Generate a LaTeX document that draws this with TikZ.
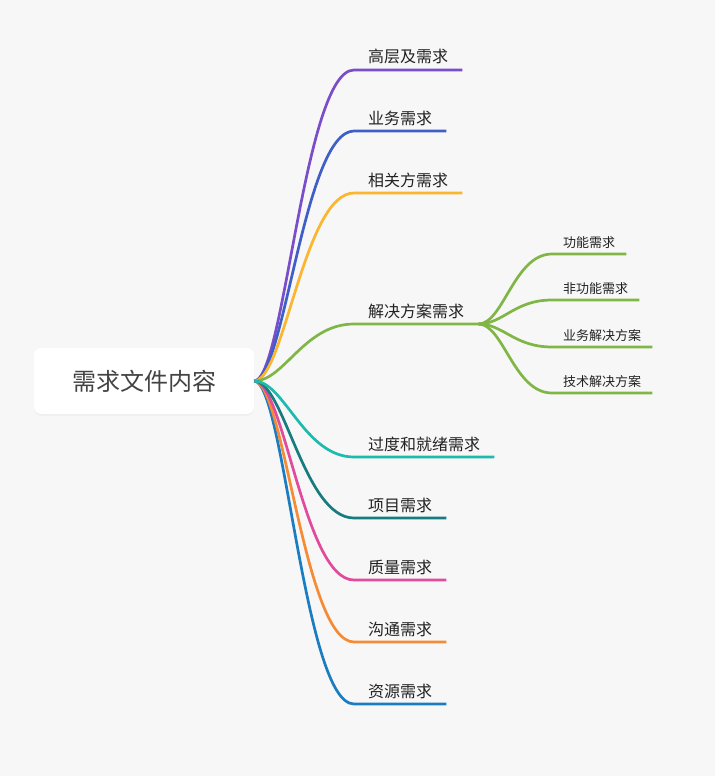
\documentclass[tikz,border=0pt]{standalone}
\usepackage{fontspec}
\usepackage{tikz}
\usetikzlibrary{shadows}
\newfontfamily\cjk{Noto Sans CJK SC}
\definecolor{bggray}{HTML}{F7F7F7}
\definecolor{txtgray}{HTML}{222222}
\definecolor{purp}{HTML}{7A4DC9}
\definecolor{blu}{HTML}{3F5FC6}
\definecolor{yel}{HTML}{FBB52F}
\definecolor{grn}{HTML}{80B646}
\definecolor{tea}{HTML}{1DBBAE}
\definecolor{dtea}{HTML}{167C7E}
\definecolor{pnk}{HTML}{E04B9C}
\definecolor{orng}{HTML}{F68B35}
\definecolor{sblu}{HTML}{1A7DC2}

\begin{document}
\begin{tikzpicture}[x=1pt,y=-1pt,
  rootbox/.style={draw=none,fill=white,rounded corners=7pt,minimum width=220pt,
    minimum height=66pt,font=\cjk\fontsize{24}{28}\selectfont,text=txtgray!85,
    drop shadow={shadow xshift=0pt,shadow yshift=-1.5pt,opacity=.08}},
  lbl/.style={anchor=south west,inner xsep=14pt,inner ysep=6.8pt,text height=11pt,
    text depth=0pt,font=\cjk\fontsize{16}{19}\selectfont,text=txtgray},
  sublbl/.style={anchor=south west,inner xsep=11pt,inner ysep=6.2pt,text height=9pt,
    text depth=0pt,font=\cjk\fontsize{13}{16}\selectfont,text=txtgray},
  branch/.style={line width=2.7pt}]
\fill[bggray] (0,0) rectangle (715,776);

%%% root %%%%
\node[rootbox] (root) at (144,381) {\raisebox{-1.5pt}{需求文件内容}};

%% labels
\node[lbl] (b1) at (354,70) {高层及需求};
\node[lbl] (b2) at (354,131) {业务需求};
\node[lbl] (b3) at (354,193) {相关方需求};
\node[lbl] (b4) at (354,324) {解决方案需求};
\node[lbl] (b5) at (354,457) {过度和就绪需求};
\node[lbl] (b6) at (354,518) {项目需求};
\node[lbl] (b7) at (354,580) {质量需求};
\node[lbl] (b8) at (354,642) {沟通需求};
\node[lbl] (b9) at (354,704) {资源需求};

\node[sublbl] (s1) at (552,254) {功能需求};
\node[sublbl] (s2) at (552,300) {非功能需求};
\node[sublbl] (s3) at (552,347) {业务解决方案};
\node[sublbl] (s4) at (552,393) {技术解决方案};

%% edges
\draw[branch,purp] (root.east) .. controls +(30,0) and +(-50,0) .. (b1.south west) -- (b1.south east);
\draw[branch,blu] (root.east) .. controls +(30,0) and +(-50,0) .. (b2.south west) -- (b2.south east);
\draw[branch,yel] (root.east) .. controls +(30,0) and +(-50,0) .. (b3.south west) -- (b3.south east);
\draw[branch,grn] (root.east) .. controls +(30,0) and +(-50,0) .. (b4.south west) -- (b4.south east);
\draw[branch,sblu] (root.east) .. controls +(30,0) and +(-50,0) .. (b9.south west) -- (b9.south east);
\draw[branch,orng] (root.east) .. controls +(30,0) and +(-50,0) .. (b8.south west) -- (b8.south east);
\draw[branch,pnk] (root.east) .. controls +(30,0) and +(-50,0) .. (b7.south west) -- (b7.south east);
\draw[branch,dtea] (root.east) .. controls +(30,0) and +(-50,0) .. (b6.south west) -- (b6.south east);
\draw[branch,tea] (root.east) .. controls +(30,0) and +(-50,0) .. (b5.south west) -- (b5.south east);

%% edges1
\foreach \s in {s1,s2,s3,s4}
  \draw[branch,grn] (b4.south east) .. controls +(25,0) and +(-38,0) .. (\s.south west) -- (\s.south east);

\end{tikzpicture}
\end{document}
